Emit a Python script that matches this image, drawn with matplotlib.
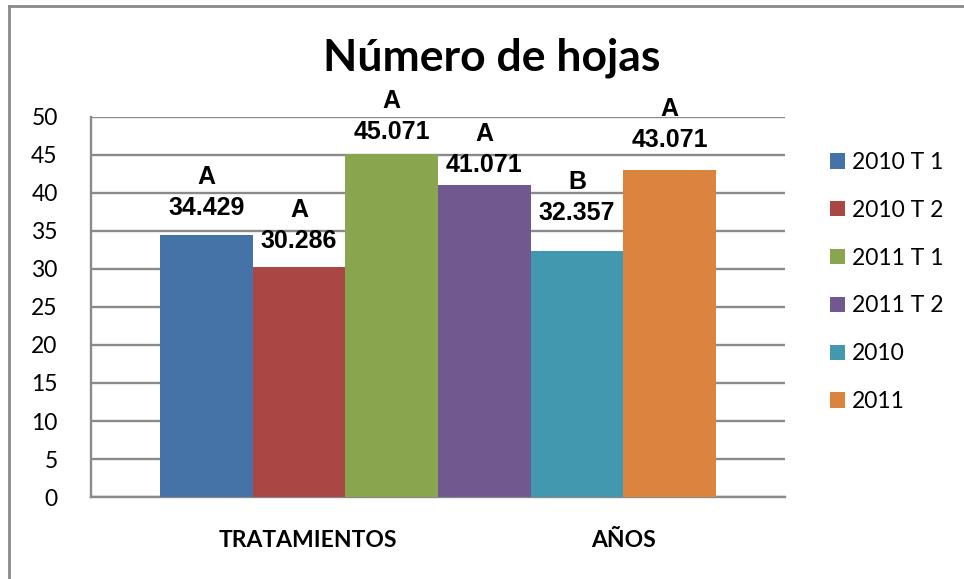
import matplotlib
matplotlib.use("Agg")
import matplotlib.pyplot as plt
from matplotlib.lines import Line2D

# data
series = ["2010 T 1", "2010 T 2", "2011 T 1", "2011 T 2", "2010", "2011"]
values = [34.429, 30.286, 45.071, 41.071, 32.357, 43.071]
letters = ["A", "A", "A", "A", "B", "A"]
groups = ["TRATAMIENTOS", "AÑOS"]
yticks = [0, 5, 10, 15, 20, 25, 30, 35, 40, 45, 50]

colors = ["#4572A7", "#AA4643", "#89A54E", "#71588F", "#4198AF", "#DB843D"]
# manual label gaps above each bar (pixels), as placed in the original
value_gap = [20, 19, 15, 13, 31, 23]
letter_gap = 31
group_pos = [1.1, 4.5]

W, H = 964, 579
fig = plt.figure(figsize=(W / 100, H / 100), dpi=100)
ax = fig.add_axes([91 / W, 1 - 497 / H, (785 - 91) / W, (497 - 117) / H])

grey = "#8a8a8a"
x = list(range(len(values)))
bars = ax.bar(x, values, width=1.0, color=colors, zorder=3)

ax.set_xlim(-1.244, 6.244)
ax.set_ylim(0, 50)
ax.set_yticks(yticks)
ax.set_yticklabels([str(t) for t in yticks], family="Lato", fontsize=16.5)
ax.tick_params(axis="y", length=0, pad=24)
ax.set_xticks([])
ax.grid(axis="y", color=grey, linewidth=1.7, zorder=0)
for s in ["top", "right"]:
    ax.spines[s].set_visible(False)
for s in ["left", "bottom"]:
    ax.spines[s].set_color(grey)
    ax.spines[s].set_linewidth(1.7)

px = 72 / 100
for xi, v, letter, g in zip(x, values, letters, value_gap):
    ax.annotate(f"{v:.3f}", (xi, v), xytext=(0, g * px), textcoords="offset points",
                ha="center", va="baseline", family="Liberation Sans",
                fontweight="bold", fontsize=18)
    ax.annotate(letter, (xi, v), xytext=(0, (g + letter_gap) * px), textcoords="offset points",
                ha="center", va="baseline", family="Liberation Sans",
                fontweight="bold", fontsize=18)

for gx, gname in zip(group_pos, groups):
    ax.annotate(gname, (gx, 0), xytext=(0, -50 * px), textcoords="offset points",
                ha="center", va="baseline", family="Lato", fontweight="bold",
                fontsize=16.5, annotation_clip=False)

fig.text(492 / W, 1 - 71 / H, "Número de hojas", ha="center", va="baseline",
         family="Lato", fontweight="bold", fontsize=32)

fig.legend(handles=list(bars), labels=series, loc="upper left",
           bbox_to_anchor=(830 / W, 1 - 152 / H), frameon=False,
           prop={"family": "Lato", "size": 16.5}, handlelength=0.65,
           handleheight=0.65, handletextpad=0.3, labelspacing=1.17,
           borderpad=0, borderaxespad=0)

# outer chart border (top and left visible)
fig.add_artist(Line2D([9 / W, 9 / W], [0, 1 - 6 / H], color=grey, linewidth=2))
fig.add_artist(Line2D([9 / W, 1], [1 - 6 / H, 1 - 6 / H], color=grey, linewidth=2))

fig.savefig("out.png", dpi=100)
